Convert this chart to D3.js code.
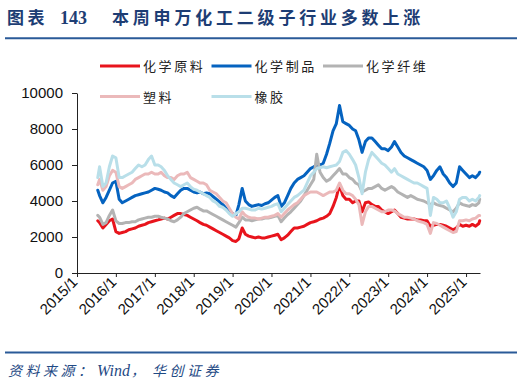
<!DOCTYPE html>
<html>
<head>
<meta charset="utf-8">
<script src="https://cdnjs.cloudflare.com/ajax/libs/d3/7.8.5/d3.min.js"></script>
<style>
body { margin: 0; background: #fff; }
svg { display: block; }
</style>
</head>
<body>
<svg class="line-chart"></svg>
<script>
// monthly readings, mid 2015 to May 2025
var dates = [
	"2015-07-15","2015-08-01","2015-09-01","2015-10-01","2015-11-01","2015-12-01",
	"2016-01-01","2016-02-01","2016-03-01","2016-04-01","2016-05-01","2016-06-01","2016-07-01","2016-08-01","2016-09-01","2016-10-01","2016-11-01","2016-12-01",
	"2017-01-01","2017-02-01","2017-03-01","2017-04-01","2017-05-01","2017-06-01","2017-07-01","2017-08-01","2017-09-01","2017-10-01","2017-11-01","2017-12-01",
	"2018-01-01","2018-02-01","2018-03-01","2018-04-01","2018-05-01","2018-06-01","2018-07-01","2018-08-01","2018-09-01","2018-10-01","2018-11-01","2018-12-01",
	"2019-01-01","2019-02-01","2019-03-01","2019-04-01","2019-05-01","2019-06-01","2019-07-01","2019-08-01","2019-09-01","2019-10-01","2019-11-01","2019-12-01",
	"2020-01-01","2020-02-01","2020-03-01","2020-04-01","2020-05-01","2020-06-01","2020-07-01","2020-08-01","2020-09-01","2020-10-01","2020-11-01","2020-12-01",
	"2021-01-01","2021-02-01","2021-03-01","2021-04-01","2021-05-01","2021-06-01","2021-07-01","2021-08-01","2021-09-01","2021-10-01","2021-11-01","2021-12-01",
	"2022-01-01","2022-02-01","2022-03-01","2022-04-01","2022-05-01","2022-06-01","2022-07-01","2022-08-01","2022-09-01","2022-10-01","2022-11-01","2022-12-01",
	"2023-01-01","2023-02-01","2023-03-01","2023-04-01","2023-05-01","2023-06-01","2023-07-01","2023-08-01","2023-09-01","2023-10-01","2023-11-01","2023-12-01",
	"2024-01-01","2024-02-01","2024-03-01","2024-04-01","2024-05-01","2024-06-01","2024-07-01","2024-08-01","2024-09-01","2024-10-01","2024-11-01","2024-12-01",
	"2025-01-01","2025-02-01","2025-03-01","2025-04-01","2025-05-01","2025-05-09"
];

var chemRaw = [
	2900,2800,2500,2700,2900,3000,
	2300,2200,2250,2300,2400,2450,2500,2600,2650,2700,2800,2850,
	2900,2950,3000,3050,3000,3100,3200,3300,3300,3250,3200,3100,
	3000,2900,2800,2700,2650,2550,2450,2350,2250,2150,2050,1950,
	1800,1750,1900,2500,2150,2050,2000,1950,2000,1950,1950,2000,
	2050,2100,2150,1850,1950,2100,2300,2500,2500,2550,2600,2700,
	2800,2850,2900,3000,3050,3150,3300,3700,4200,4900,4300,4100,
	4100,3900,4000,4000,3400,3900,3950,3800,3700,3700,3500,3400,
	3300,3400,3500,3300,3100,3050,3000,3000,3000,2950,2950,2900,
	2900,2600,2650,2700,2700,2650,2600,2500,2400,2500,2700,2600,
	2650,2600,2700,2600,2750,2900
];
var chemProducts = [
	4600,4300,3900,4200,4600,5000,
	5100,4100,3900,4000,4100,4200,4300,4350,4400,4450,4500,4600,
	4700,4650,4600,4500,4450,4300,4200,4400,4600,4700,4700,4600,
	4500,4450,4500,4400,4450,4400,4250,4100,3950,3800,3600,3450,
	3300,3200,3800,4700,4000,3800,3700,3750,3800,3750,3850,3900,
	4050,4200,4300,3700,3900,4300,4700,5000,5200,5300,5400,5600,
	5800,5900,6000,6000,6100,6600,7200,7900,8300,9300,8400,8300,
	8200,8000,7900,7400,6700,7300,7500,7500,7300,7100,6900,6900,
	6800,7000,7300,7000,6700,6500,6400,6300,6200,6100,6000,5900,
	5700,5200,5400,5700,5900,5500,5300,5000,4800,5000,5900,5700,
	5500,5300,5400,5300,5500,5600
];
var chemFiber = [
	3200,3100,2700,2800,3200,3500,
	2900,2750,2750,2800,2800,2850,2850,2950,3000,3050,3100,3100,
	3150,3150,3100,3050,3000,2900,2850,2950,3100,3300,3400,3500,
	3600,3650,3550,3450,3450,3350,3250,3150,3050,2950,2850,2750,
	2650,2550,2800,3100,2950,2950,2900,2950,3000,3000,3050,3050,
	3100,3150,3200,2850,3050,3250,3400,3600,3800,4000,4300,4600,
	4900,5200,6600,5600,5300,5100,5200,5400,5600,5800,5500,5500,
	5300,5200,5000,4900,4500,4600,4700,4700,4800,4900,4700,4600,
	4700,4800,4700,4500,4400,4300,4200,4300,4200,4100,4050,4000,
	3900,3800,3900,3800,3750,3700,3600,3500,3400,3600,3900,3800,
	3750,3700,3800,3750,3900,4100
];
var plastics = [
	4900,5200,4600,4800,5400,5700,
	5600,4800,4700,4800,4900,5000,5200,5300,5400,5500,5500,5600,
	5500,5500,5600,5400,5300,5300,5200,5400,5500,5500,5600,5300,
	5200,5100,5000,5000,4900,4600,4500,4400,4200,4000,3900,3600,
	3300,3100,3000,3400,3200,3100,3050,3050,3000,3050,3100,3100,
	3150,3200,3300,3100,3300,3500,3650,3800,3900,4100,4300,4400,
	4500,4500,4500,4400,4300,4400,4500,4500,4600,5000,4600,4400,
	4400,4300,4100,3800,2700,3400,3700,3700,3600,3500,3400,3400,
	3500,3500,3450,3300,3200,3100,3100,3050,3000,2900,2850,2800,
	2700,2200,2800,2750,2650,2550,2450,2350,2250,2300,2900,2900,
	2950,2900,3000,3050,3200,3200
];
var rubber = [
	5300,5900,4800,5000,5900,6500,
	6400,5300,5300,5400,5500,5600,5800,6000,5900,6000,6300,6500,
	6000,6000,5900,5700,5400,5200,5000,4900,4800,4900,5000,4800,
	4650,4600,4500,4400,4300,4200,4000,3900,3700,3650,3500,3300,
	3150,3300,3400,3600,3600,3550,3500,3500,3600,3550,3600,3650,
	3700,3800,3850,3400,3600,3800,4000,4200,4300,4450,4600,5000,
	5400,5600,5800,5850,5900,5850,5900,5950,6000,6200,6700,6800,
	6600,6300,6000,5300,4400,5600,6300,6700,6500,6300,6100,6000,
	5800,5600,5800,5500,5400,5300,5200,5100,5000,5000,4900,4800,
	4700,3200,4200,4100,3900,3900,4000,3600,3100,3400,4100,4200,
	4200,4000,4100,4000,4200,4300
];

var seriesNames = ["化学原料", "化学制品", "化学纤维", "塑料", "橡胶"];
var seriesValues = [chemRaw, chemProducts, chemFiber, plastics, rubber];
var seriesColors = ["#e8141c", "#0563c0", "#b3b3b3", "#ebb9ba", "#b9dfe9"];

var yTicks = [0, 2000, 4000, 6000, 8000, 10000];
var xTickYears = ["2015", "2016", "2017", "2018", "2019", "2020", "2021", "2022", "2023", "2024", "2025"];

var parseDate = d3.timeParse("%Y-%m-%d");

function drawChart() {
	var svgWidth = 524, svgHeight = 387;
	var left = 77, right = 480, top = 93, bottom = 273;

	var svg = d3.select(".line-chart")
	.attr("width", svgWidth)
	.attr("height", svgHeight);

	// title and rules
	svg.append("text")
	.attr("x", 7)
	.attr("y", 23.5)
	.attr("fill", "#1d3d74")
	.style("font-family", "'Noto Sans CJK SC', sans-serif")
	.style("font-weight", "bold")
	.style("font-size", "17px")
	.style("letter-spacing", "3.5px")
	.text("图表");

	svg.append("text")
	.attr("x", 60)
	.attr("y", 23.5)
	.attr("fill", "#1d3d74")
	.style("font-family", "'Liberation Serif', serif")
	.style("font-weight", "bold")
	.style("font-size", "18px")
	.text("143");

	svg.append("text")
	.attr("x", 112)
	.attr("y", 23.5)
	.attr("fill", "#1d3d74")
	.style("font-family", "'Noto Sans CJK SC', sans-serif")
	.style("font-weight", "bold")
	.style("font-size", "17px")
	.style("letter-spacing", "3.8px")
	.text("本周申万化工二级子行业多数上涨");

	svg.append("line")
	.attr("x1", 5).attr("x2", 517)
	.attr("y1", 38.3).attr("y2", 38.3)
	.attr("stroke", "#2a5a98")
	.attr("stroke-width", 2);

	svg.append("line")
	.attr("x1", 5).attr("x2", 517)
	.attr("y1", 352.5).attr("y2", 352.5)
	.attr("stroke", "#2a5a98")
	.attr("stroke-width", 2);

	// source line: CJK spaced out, Wind in a serif italic
	var source = svg.append("text")
	.attr("y", 376)
	.attr("fill", "#1f4a85")
	.style("font-family", "'Noto Sans CJK SC', sans-serif")
	.style("font-style", "italic")
	.style("font-size", "14px");
	source.append("tspan").attr("x", 8).style("letter-spacing", "3.5px").text("资料来源：");
	source.append("tspan").attr("x", 97)
	.style("font-family", "'Liberation Serif', serif")
	.style("font-size", "16px")
	.text("Wind");
	source.append("tspan").attr("x", 131).text("，");
	source.append("tspan").attr("x", 152).style("letter-spacing", "3.5px").text("华创证券");

	var x = d3.scaleTime()
	.domain([parseDate("2015-01-01"), parseDate("2025-05-12")])
	.range([left, right]);

	var y = d3.scaleLinear()
	.domain([0, 10000])
	.range([bottom, top]);

	var xAxis = svg.append("g")
	.attr("transform", "translate(0," + bottom + ")")
	.call(d3.axisBottom(x)
		.tickValues(xTickYears.map(function(d) { return parseDate(d + "-01-01") }))
		.tickFormat(d3.timeFormat("%Y/%-m"))
		.tickSize(4)
		.tickSizeOuter(0));

	xAxis.selectAll("text")
	.attr("x", 0)
	.attr("y", 0)
	.attr("dy", "0")
	.attr("transform", "translate(1,10) rotate(-45)")
	.style("text-anchor", "end")
	.style("font-family", "'Liberation Sans', Arial, sans-serif")
	.style("font-size", "15px")
	.attr("fill", "#111");

	var yAxis = svg.append("g")
	.attr("transform", "translate(" + left + ",0)")
	.call(d3.axisLeft(y)
		.tickValues(yTicks)
		.tickFormat(d3.format("d"))
		.tickSize(5)
		.tickPadding(9)
		.tickSizeOuter(0));

	yAxis.selectAll("text")
	.style("font-family", "'Liberation Sans', Arial, sans-serif")
	.style("font-size", "15px")
	.attr("fill", "#111");

	svg.selectAll(".domain, .tick line").attr("stroke", "#222");

	var line = d3.line()
	.x(function(d) { return x(d.date)})
	.y(function(d) { return y(d.value)});

	for (var i = 0; i < seriesValues.length; i++) {
		var data = [];
		for (var j = 0; j < dates.length; j++) {
			data.push({ date: parseDate(dates[j]), value: seriesValues[i][j] });
		}
		svg.append("path")
		.datum(data)
		.attr("fill", "none")
		.attr("stroke", seriesColors[i])
		.attr("stroke-linejoin", "round")
		.attr("stroke-linecap", "round")
		.attr("stroke-width", 3)
		.attr("d", line);
	}

	// legend, two rows
	var legend = svg.append("g");
	for (var k = 0; k < seriesNames.length; k++) {
		var lx = 100 + (k % 3) * 111.5;
		var ly = 66 + Math.floor(k / 3) * 30.5;
		legend.append("line")
		.attr("x1", lx).attr("x2", lx + 40)
		.attr("y1", ly).attr("y2", ly)
		.attr("stroke", seriesColors[k])
		.attr("stroke-width", 3);
		legend.append("text")
		.attr("x", lx + 43)
		.attr("y", ly + 5)
		.attr("fill", "#222")
		.style("font-family", "'Noto Sans CJK SC', sans-serif")
		.style("font-size", "13px")
		.style("letter-spacing", "2.6px")
		.text(seriesNames[k]);
	}
}

drawChart();
</script>
</body>
</html>
